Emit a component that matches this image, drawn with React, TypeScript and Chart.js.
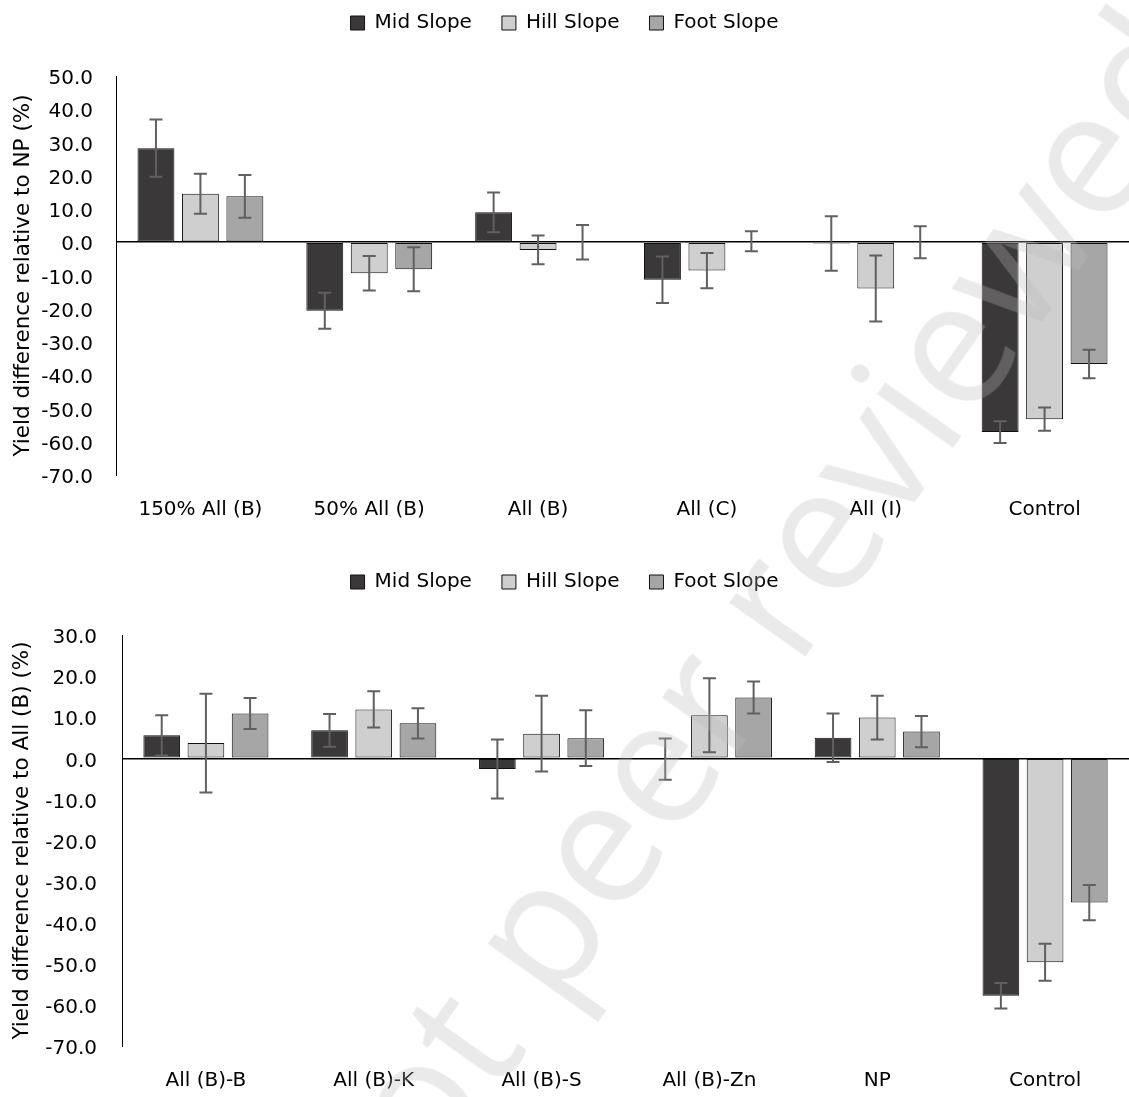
import React, { useEffect, useRef } from 'react';
import { Chart, registerables } from 'chart.js';

Chart.register(...registerables);

// ---------- data ----------
const seriesNames = ['Mid Slope', 'Hill Slope', 'Foot Slope'];
const seriesFill = ['#3a3839', '#d0cfcf', '#a6a6a6'];

const topCategories = ['150% All (B)', '50% All (B)', 'All (B)', 'All (C)', 'All (I)', 'Control'];
const topMid = [28.3, -20.6, 9.0, -11.3, -0.4, -57.1];
const topMidErr = [8.6, 5.4, 6.0, 7.0, 8.2, 3.3];
const topHill = [14.6, -9.3, -2.3, -8.5, -13.9, -53.2];
const topHillErr = [6.0, 5.2, 4.3, 5.3, 9.9, 3.5];
const topFoot = [13.8, -8.1, 0.0, 0.3, 0.0, -36.6];
const topFootErr = [6.4, 6.6, 5.2, 3.0, 4.8, 4.3];
const topTitle = 'Yield difference relative to NP (%)';

const bottomCategories = ['All (B)-B', 'All (B)-K', 'All (B)-S', 'All (B)-Zn', 'NP', 'Control'];
const bottomMid = [5.6, 6.8, -2.6, -0.2, 5.0, -57.8];
const bottomMidErr = [4.9, 4.0, 7.2, 5.0, 5.9, 3.1];
const bottomHill = [3.7, 11.9, 6.0, 10.5, 9.9, -49.6];
const bottomHillErr = [12.0, 4.4, 9.2, 9.0, 5.3, 4.5];
const bottomFoot = [10.9, 8.5, 4.9, 14.8, 6.5, -35.1];
const bottomFootErr = [3.8, 3.7, 6.8, 3.9, 3.8, 4.3];
const bottomTitle = 'Yield difference relative to All (B) (%)';

const watermarkText = 'Not peer reviewed';

// ---------- plugin: error bars ----------
const errorBarPlugin = {
  id: 'errorBars',
  afterDatasetsDraw(chart: any) {
    const ctx = chart.ctx;
    const yScale = chart.scales.y;
    chart.data.datasets.forEach((ds: any, di: number) => {
      const meta = chart.getDatasetMeta(di);
      const errs: number[] = ds.errorBars || [];
      meta.data.forEach((bar: any, i: number) => {
        const v = ds.data[i];
        const e = errs[i];
        if (e == null) return;
        const x = bar.x;
        const yTop = yScale.getPixelForValue(v + e);
        const yBot = yScale.getPixelForValue(v - e);
        const cap = 6.5;
        ctx.save();
        ctx.strokeStyle = '#606060';
        ctx.lineWidth = 2;
        ctx.beginPath();
        ctx.moveTo(x, yTop);
        ctx.lineTo(x, yBot);
        ctx.moveTo(x - cap, yTop);
        ctx.lineTo(x + cap, yTop);
        ctx.moveTo(x - cap, yBot);
        ctx.lineTo(x + cap, yBot);
        ctx.stroke();
        ctx.restore();
      });
    });
  },
};

const FONT = 'DejaVu Sans';
const TEXT = '#000000';

type PanelProps = {
  labels: string[];
  values: number[][];
  errors: number[][];
  yMin: number;
  yMax: number;
  title: string;
  width: number;
  height: number;
  legendPadTop: number;
  topGap: number;
  bottomAxisH: number;
  yAxisW: number;
  yTickPad: number;
  titlePad: number;
};

function BarPanel(p: PanelProps) {
  const ref = useRef<HTMLCanvasElement | null>(null);
  useEffect(() => {
    if (!ref.current) return;
    const chart = new Chart(ref.current, {
      type: 'bar',
      data: {
        labels: p.labels,
        datasets: p.values.map((d, i) => ({
          label: seriesNames[i],
          data: d,
          errorBars: p.errors[i],
          xAxisID: 'x',
          yAxisID: 'y',
          backgroundColor: seriesFill[i],
          borderColor: '#111111',
          borderWidth: 1,
          borderSkipped: false,
          categoryPercentage: 0.79,
          barPercentage: 0.83,
        })) as any,
      },
      options: {
        responsive: false,
        maintainAspectRatio: false,
        animation: false,
        layout: { padding: { top: p.legendPadTop, left: 0, right: 0, bottom: 0 } },
        plugins: {
          legend: {
            position: 'top',
            labels: {
              boxWidth: 14,
              boxHeight: 14,
              padding: 30,
              color: TEXT,
              font: { family: FONT, size: 20 },
            },
          },
          tooltip: { enabled: false },
        },
        scales: {
          x: {
            position: 'bottom',
            grid: { display: false, drawTicks: false },
            border: { display: false },
            ticks: {
              padding: 23,
              color: TEXT,
              font: { family: FONT, size: 20 },
              maxRotation: 0,
              autoSkip: false,
            },
            afterFit: (s: any) => {
              s.height = p.bottomAxisH;
            },
          },
          xTop: {
            type: 'category',
            position: 'top',
            grid: { display: false, drawTicks: false },
            border: { display: false },
            ticks: { display: false },
            afterFit: (s: any) => {
              s.height = p.topGap;
            },
          },
          y: {
            min: p.yMin,
            max: p.yMax,
            ticks: {
              stepSize: 10,
              callback: (v: any) => Number(v).toFixed(1),
              padding: p.yTickPad,
              labelOffset: 3,
              color: TEXT,
              font: { family: FONT, size: 20 },
            },
            grid: {
              drawTicks: false,
              color: (c: any) => (c.tick && c.tick.value === 0 ? '#000000' : 'rgba(0,0,0,0)'),
              lineWidth: (c: any) => (c.tick && c.tick.value === 0 ? 1.5 : 1),
            },
            border: { display: true, color: '#000000', width: 1 },
            title: {
              display: true,
              text: p.title,
              color: TEXT,
              font: { family: FONT, size: 21.5 },
              padding: { top: p.titlePad, bottom: 0 },
            },
            afterFit: (s: any) => {
              s.width = p.yAxisW;
            },
          },
        } as any,
      },
      plugins: [errorBarPlugin],
    });
    return () => chart.destroy();
  }, []);
  return (
    <canvas
      ref={ref}
      width={p.width}
      height={p.height}
      style={{ display: 'block', width: p.width, height: p.height }}
    />
  );
}

export default function App() {
  return (
    <div
      style={{
        position: 'absolute',
        left: 0,
        top: 0,
        width: 1129,
        height: 1097,
        background: '#ffffff',
        overflow: 'hidden',
      }}
    >
      <div style={{ position: 'absolute', left: 0, top: 0 }}>
        <BarPanel
          labels={topCategories}
          values={[topMid, topHill, topFoot]}
          errors={[topMidErr, topHillErr, topFootErr]}
          yMin={-70}
          yMax={50}
          title={topTitle}
          width={1129}
          height={545}
          legendPadTop={-17}
          topGap={33}
          bottomAxisH={70}
          yAxisW={116}
          yTickPad={23}
          titlePad={11}
        />
      </div>
      <div style={{ position: 'absolute', left: 0, top: 545 }}>
        <BarPanel
          labels={bottomCategories}
          values={[bottomMid, bottomHill, bottomFoot]}
          errors={[bottomMidErr, bottomHillErr, bottomFootErr]}
          yMin={-70}
          yMax={30}
          title={bottomTitle}
          width={1129}
          height={552}
          legendPadTop={-3}
          topGap={33}
          bottomAxisH={51}
          yAxisW={122}
          yTickPad={25}
          titlePad={10}
        />
      </div>
      <div
        style={{
          position: 'absolute',
          left: 735,
          top: 640,
          transform: 'translate(-50%, -50%) rotate(-54.7deg)',
          fontFamily: '"Open Sans", sans-serif',
          fontSize: 174,
          lineHeight: 1,
          whiteSpace: 'nowrap',
          color: 'rgba(186,186,186,0.3)',
          pointerEvents: 'none',
        }}
      >
        {watermarkText}
      </div>
    </div>
  );
}
